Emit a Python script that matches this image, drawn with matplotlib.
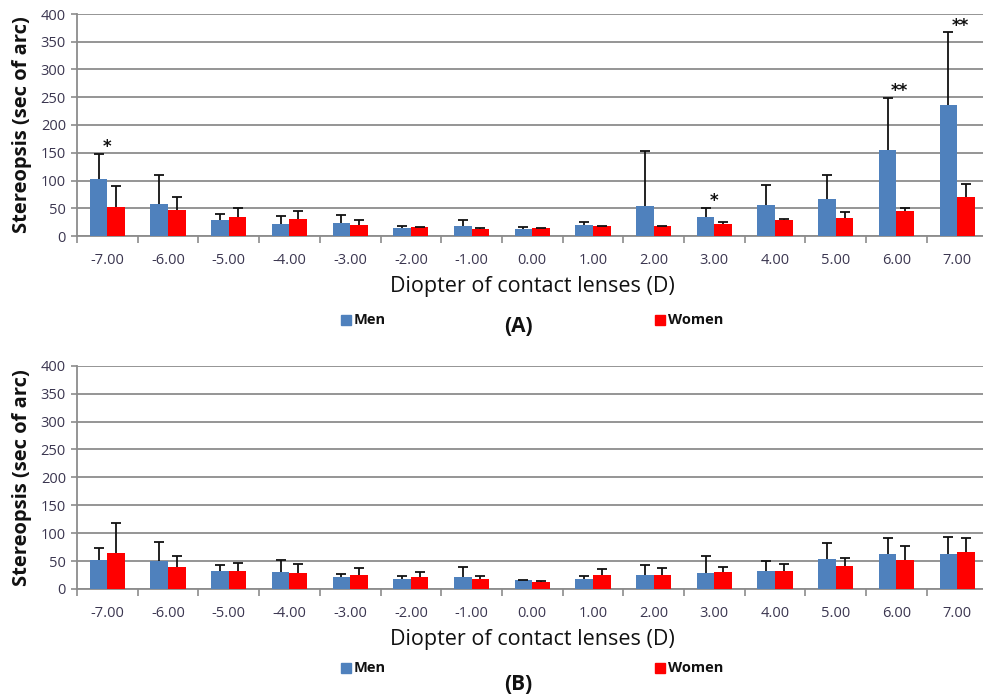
import numpy as np
import matplotlib
matplotlib.use("Agg")
import matplotlib.pyplot as plt
from matplotlib import font_manager
from matplotlib.patches import Rectangle

def pick(names):
    avail = {f.name for f in font_manager.fontManager.ttflist}
    for n in names:
        if n in avail:
            return n
    return "DejaVu Sans"

NARROW = pick(["Liberation Sans Narrow", "Open Sans", "Lato", "DejaVu Sans"])
BOLD = pick(["Open Sans", "Noto Sans", "Lato", "DejaVu Sans"])

categories = ["-7.00", "-6.00", "-5.00", "-4.00", "-3.00", "-2.00", "-1.00", "0.00",
              "1.00", "2.00", "3.00", "4.00", "5.00", "6.00", "7.00"]

# Panel A
men_a = [103.5, 58.3, 28.3, 21.7, 23.5, 15.0, 17.4, 13.2, 19.8, 54.1, 34.3, 56.5, 66.8, 154.6, 236.4]
men_a_err = [45.1, 51.2, 12.0, 14.4, 15.0, 3.6, 12.1, 3.6, 6.1, 99.9, 16.8, 36.1, 43.2, 94.4, 130.6]
women_a = [51.7, 47.5, 34.3, 30.7, 19.2, 15.6, 13.2, 13.8, 18.0, 18.0, 22.3, 28.9, 32.5, 45.7, 71.0]
women_a_err = [37.9, 22.9, 16.8, 14.4, 10.3, 1.2, 1.2, 0.6, 0.6, 0.6, 3.6, 1.2, 10.2, 5.4, 23.4]
sig_a = ["*", "", "", "", "", "", "", "", "", "", "*", "", "", "**", "**"]

# Panel B
men_b = [51.3, 50.1, 32.2, 30.4, 21.5, 17.3, 21.5, 15.5, 17.3, 25.7, 28.1, 32.2, 53.1, 62.1, 62.1]
men_b_err = [22.7, 34.7, 10.2, 22.1, 6.0, 6.0, 18.5, 1.2, 6.0, 16.7, 31.6, 18.5, 29.9, 29.2, 31.6]
women_b = [64.5, 38.8, 32.2, 28.1, 25.7, 21.5, 17.3, 13.1, 25.7, 25.7, 30.4, 32.2, 40.6, 51.3, 66.3]
women_b_err = [54.3, 20.3, 15.0, 16.7, 12.5, 8.4, 6.0, 1.8, 10.1, 12.5, 9.6, 12.6, 14.3, 25.1, 25.0]

yticks = [0, 50, 100, 150, 200, 250, 300, 350, 400]
series_names = ["Men", "Women"]
panel_labels = ["(A)", "(B)"]
xlabel = "Diopter of contact lenses (D)"
ylabel = "Stereopsis (sec of arc)"

MEN_C = "#4F81BD"
WOM_C = "#FF0000"
TXT_C = "#3b3650"
GRID_C = "#8c8c8c"

W, H = 983, 695
fig = plt.figure(figsize=(W / 100, H / 100), dpi=100)

def fx(px):
    return px / W

def fy(py):
    return 1 - py / H

def upper_err(ax, xs, vals, errs):
    n = len(vals)
    cont = ax.errorbar(xs, vals, yerr=[np.zeros(n), errs], fmt="none", ecolor="#111111",
                       elinewidth=1.3, capsize=3.5, capthick=1.3, zorder=4)
    caps = cont.lines[1]
    if len(caps) >= 2:
        caps[0].set_visible(False)

def panel(top_px, bot_px, men, men_err, wom, wom_err, sig, label, xl_y, leg_y, lab_y):
    left = 77
    width = 15 * 60.7
    ax = fig.add_axes([fx(left), fy(bot_px), width / W, (bot_px - top_px) / H])
    x = np.arange(len(categories))
    bw = 0.29
    ax.bar(x - bw / 2, men, bw, color=MEN_C, zorder=3)
    ax.bar(x + bw / 2, wom, bw, color=WOM_C, zorder=3)
    upper_err(ax, x - bw / 2, men, men_err)
    upper_err(ax, x + bw / 2, wom, wom_err)
    if sig is not None:
        for i, s in enumerate(sig):
            if s:
                top = men[i] + men_err[i]
                ax.text(i - bw / 2 + 0.14 + (0.06 if len(s) == 2 else 0.0), top + 12, s,
                        ha="center", va="center", fontsize=12, fontweight="bold",
                        color="#111111", family="DejaVu Sans", zorder=5)
    ax.set_xlim(-0.5, len(categories) - 0.5)
    ax.set_ylim(0, 400)
    ax.set_yticks(yticks)
    ax.set_yticklabels([str(v) for v in yticks], family=NARROW, fontsize=10.5, color=TXT_C)
    ax.set_xticks(x)
    ax.set_xticklabels(categories, family=NARROW, fontsize=10.5, color=TXT_C)
    ax.set_xticks(np.arange(len(categories) + 1) - 0.5, minor=True)
    ax.tick_params(axis="x", which="major", length=0, pad=12)
    ax.tick_params(axis="x", which="minor", length=5, color=GRID_C, width=1.2, direction="out")
    ax.tick_params(axis="y", which="major", length=4, color=GRID_C, width=1.2, pad=4)
    ax.yaxis.grid(True, color=GRID_C, linewidth=1.3, zorder=0)
    ax.set_axisbelow(True)
    for side in ["top", "right"]:
        ax.spines[side].set_visible(False)
    for side in ["left", "bottom"]:
        ax.spines[side].set_color(GRID_C)
        ax.spines[side].set_linewidth(1.3)
    ax.set_ylabel(ylabel, family=BOLD, fontweight="bold", fontsize=14.5, color="#111111", labelpad=6)
    fig.text(fx(532), fy(xl_y), xlabel, ha="center", va="center", family=NARROW,
             fontsize=15.5, fontweight="medium", color="#111111")
    # legend
    for sx, name, c in [(341, series_names[0], MEN_C), (655, series_names[1], WOM_C)]:
        fig.patches.append(Rectangle((fx(sx), fy(leg_y + 5)), 10 / W, 10 / H,
                                     transform=fig.transFigure, color=c))
        fig.text(fx(sx + 13), fy(leg_y), name, ha="left", va="center", family=BOLD,
                 fontweight="bold", fontsize=10.5, color="#111111")
    fig.text(fx(518), fy(lab_y), label, ha="center", va="center", family=BOLD,
             fontweight="bold", fontsize=15, color="#111111")
    return ax

panel(14, 236, men_a, men_a_err, women_a, women_a_err, sig_a, panel_labels[0], 287, 320, 327)
panel(365.7, 589, men_b, men_b_err, women_b, women_b_err, None, panel_labels[1], 639, 668, 684)

fig.savefig("out.png", dpi=100)
